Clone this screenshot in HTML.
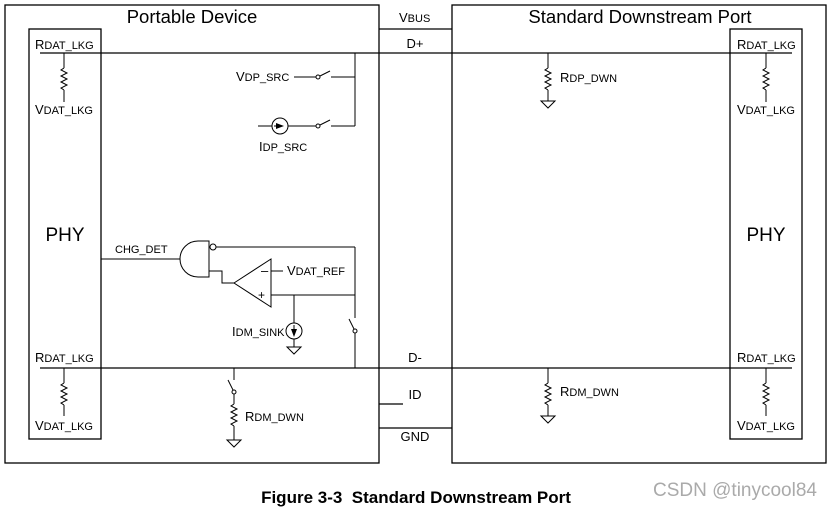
<!DOCTYPE html>
<html><head><meta charset="utf-8"><style>
html,body{margin:0;padding:0;background:#fff;}
svg{display:block;font-family:"Liberation Sans",Arial,sans-serif;}
</style></head><body>
<svg width="832" height="510" viewBox="0 0 832 510" xmlns="http://www.w3.org/2000/svg">
<defs>
<g id="gnd"><path d="M-7,0 H7 L0,7 Z" fill="#fff" stroke="#000" stroke-width="1"/></g>
<g id="res"><path d="M0,0 L-3,2 L3,5 L-3,8 L3,11 L-3,14 L3,17 L-3,20 L0,22" fill="none" stroke="#000" stroke-width="1"/></g>
</defs>
<g fill="none" stroke="#000" stroke-width="1.3">
<rect x="5" y="5" width="374" height="458"/>
<rect x="452" y="5" width="374" height="458"/>
<rect x="29" y="29" width="72" height="410"/>
<rect x="730" y="29" width="72" height="410"/>
<line x1="40" y1="53" x2="792" y2="53"/>
<line x1="40" y1="368" x2="792" y2="368"/>
<line x1="379" y1="29" x2="452" y2="29"/>
<line x1="379" y1="404" x2="403" y2="404"/>
<line x1="379" y1="428" x2="452" y2="428"/>
</g>
<g fill="none" stroke="#000" stroke-width="1">
<line x1="64" y1="53" x2="64" y2="68"/><use href="#res" x="64" y="68"/><line x1="64" y1="90" x2="64" y2="102"/>
<line x1="64" y1="368" x2="64" y2="383"/><use href="#res" x="64" y="383"/><line x1="64" y1="405" x2="64" y2="416"/>
<line x1="766" y1="53" x2="766" y2="68"/><use href="#res" x="766" y="68"/><line x1="766" y1="90" x2="766" y2="102"/>
<line x1="766" y1="368" x2="766" y2="383"/><use href="#res" x="766" y="383"/><line x1="766" y1="405" x2="766" y2="416"/>
<line x1="548" y1="53" x2="548" y2="68"/><use href="#res" x="548" y="68"/><line x1="548" y1="90" x2="548" y2="101"/><use href="#gnd" x="548" y="101"/>
<line x1="548" y1="368" x2="548" y2="383"/><use href="#res" x="548" y="383"/><line x1="548" y1="405" x2="548" y2="416"/><use href="#gnd" x="548" y="416"/>
<line x1="294" y1="77" x2="316" y2="77"/><circle cx="318" cy="77" r="2"/><line x1="320" y1="76" x2="330" y2="71"/><line x1="331" y1="77" x2="355" y2="77"/>
<line x1="355" y1="53" x2="355" y2="126"/>
<line x1="258" y1="126" x2="272" y2="126"/><circle cx="280" cy="126" r="8"/><line x1="288" y1="126" x2="316" y2="126"/>
<circle cx="318" cy="126" r="2"/><line x1="320" y1="125" x2="330" y2="120"/><line x1="331" y1="126" x2="355" y2="126"/>
<line x1="101" y1="259" x2="180" y2="259"/>
<path d="M209,241 H198 A18,18 0 0 0 198,277 H209 Z"/>
<circle cx="213" cy="247" r="3"/>
<line x1="216" y1="247" x2="355" y2="247"/>
<line x1="355" y1="247" x2="355" y2="318"/>
<line x1="349" y1="319" x2="354" y2="329"/><circle cx="355" cy="331" r="2"/>
<line x1="355" y1="333" x2="355" y2="368"/>
<polyline points="209,271 222,271 222,283 234,283"/>
<path d="M234,283 L271,259 L271,307 Z"/>
<line x1="271" y1="271" x2="283" y2="271"/>
<line x1="271" y1="295" x2="355" y2="295"/>
<line x1="294" y1="295" x2="294" y2="323"/><circle cx="294" cy="331" r="8"/>
<line x1="294" y1="339" x2="294" y2="347"/><use href="#gnd" x="294" y="347"/>
<line x1="234" y1="368" x2="234" y2="380"/>
<line x1="228" y1="380" x2="233" y2="390"/><circle cx="234" cy="392" r="2"/>
<line x1="234" y1="394" x2="234" y2="404"/><use href="#res" x="234" y="404"/><line x1="234" y1="426" x2="234" y2="440"/><use href="#gnd" x="234" y="440"/>
</g>
<g fill="#000" stroke="none">
<path d="M276,123 L284,126 L276,129 Z"/><line x1="274" y1="126" x2="280" y2="126" stroke="#000"/>
<path d="M291,329 L297,329 L294,337 Z"/><line x1="294" y1="325" x2="294" y2="331" stroke="#000"/>
</g>
<g fill="#000">
<text x="261" y="275" font-size="13">–</text>
<text x="258" y="299" font-size="12">+</text>
</g>
<g fill="#000" font-size="18.5">
<text x="192" y="23" text-anchor="middle">Portable Device</text>
<text x="640" y="23" text-anchor="middle">Standard Downstream Port</text>
<text x="65" y="241" text-anchor="middle" font-size="19">PHY</text>
<text x="766" y="241" text-anchor="middle" font-size="19">PHY</text>
</g>
<g fill="#000" font-size="11">
<text x="35" y="49"><tspan font-size="13">R</tspan>DAT_LKG</text>
<text x="35" y="114"><tspan font-size="13">V</tspan>DAT_LKG</text>
<text x="35" y="362"><tspan font-size="13">R</tspan>DAT_LKG</text>
<text x="35" y="430"><tspan font-size="13">V</tspan>DAT_LKG</text>
<text x="737" y="49"><tspan font-size="13">R</tspan>DAT_LKG</text>
<text x="737" y="114"><tspan font-size="13">V</tspan>DAT_LKG</text>
<text x="737" y="362"><tspan font-size="13">R</tspan>DAT_LKG</text>
<text x="737" y="430"><tspan font-size="13">V</tspan>DAT_LKG</text>
<text x="399" y="22"><tspan font-size="13">V</tspan>BUS</text>
<text x="236" y="81"><tspan font-size="13">V</tspan>DP_SRC</text>
<text x="259" y="151"><tspan font-size="13">I</tspan>DP_SRC</text>
<text x="287" y="275"><tspan font-size="13">V</tspan>DAT_REF</text>
<text x="232" y="336"><tspan font-size="13">I</tspan>DM_SINK</text>
<text x="245" y="421"><tspan font-size="13">R</tspan>DM_DWN</text>
<text x="560" y="82"><tspan font-size="13">R</tspan>DP_DWN</text>
<text x="560" y="396"><tspan font-size="13">R</tspan>DM_DWN</text>
<text x="115" y="253" font-size="11">CHG_DET</text>
</g>
<g fill="#000" font-size="13" text-anchor="middle">
<text x="415" y="48">D+</text>
<text x="415" y="362">D-</text>
<text x="415" y="399">ID</text>
<text x="415" y="441">GND</text>
</g>
<text x="416" y="503" text-anchor="middle" font-size="17" font-weight="bold" fill="#000">Figure 3-3&#160;&#160;Standard Downstream Port</text>
<text x="735" y="496" text-anchor="middle" font-size="19" fill="#aaa">CSDN @tinycool84</text>
</svg>
</body></html>
